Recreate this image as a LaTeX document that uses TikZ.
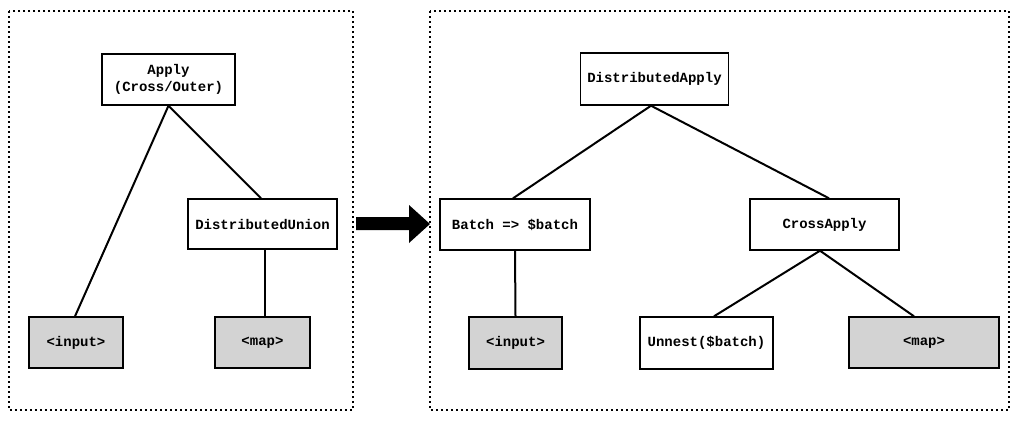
\documentclass[tikz,border=0pt]{standalone}
\usepackage{fontspec}
\setmonofont{Liberation Mono}
\definecolor{leafgray}{RGB}{211,211,211}
\begin{document}
\begin{tikzpicture}[x=1pt,y=-1pt,
  opbox/.style={draw=black, line width=1.4pt, fill=white, inner sep=0pt,
    font=\ttfamily\bfseries\fontsize{14}{17}\selectfont, align=center},
  leafbox/.style={opbox, fill=leafgray},
  edge/.style={draw=black, line width=2pt},
  panel/.style={draw=black, line width=1.8pt, dash pattern=on 1.8pt off 3.2pt}]
\useasboundingbox (0,0) rectangle (1017,426);
% panels
\draw[panel] (9,11) rectangle (353,410);
\draw[panel] (430,11) rectangle (1009,410);
% left tree
\node[opbox, minimum width=133pt, minimum height=51pt] (apply) at (168.5,79.5) {Apply\\(Cross/Outer)};
\node[opbox, minimum width=149pt, minimum height=50pt] (du) at (262.5,224) {DistributedUnion};
\node[leafbox, minimum width=94pt, minimum height=51pt] (lin) at (76,342.5) {<input>};
\node[leafbox, minimum width=95pt, minimum height=51pt] (lmap) at (262.5,342.5) {<map>};
\draw[edge] (apply.south) -- ([xshift=-1pt]lin.north);
\draw[edge] (apply.south) -- ([xshift=-1.5pt]du.north);
\draw[edge] ([xshift=2.5pt]du.south) -- ([xshift=2.5pt]lmap.north);
% arrow between panels
\fill[black] (356,217) -- (409,217) -- (409,205) -- (430,224) -- (409,243) -- (409,230) -- (356,230) -- cycle;
% right tree
\node[opbox, minimum width=148pt, minimum height=52pt] (da) at (654.5,79) {DistributedApply};
\node[opbox, minimum width=150pt, minimum height=51pt] (batch) at (515,224.5) {Batch => \$batch};
\node[opbox, minimum width=149pt, minimum height=51pt] (ca) at (824.5,224.5) {CrossApply};
\node[leafbox, minimum width=93pt, minimum height=52pt] (rin) at (515.5,343) {<input>};
\node[opbox, minimum width=133pt, minimum height=52pt] (un) at (706.5,343) {Unnest(\$batch)};
\node[leafbox, minimum width=150pt, minimum height=51pt] (rmap) at (924,342.5) {<map>};
\draw[edge] ([xshift=-3.5pt]da.south) -- ([xshift=-2pt]batch.north);
\draw[edge] ([xshift=-3.5pt]da.south) -- ([xshift=4.5pt]ca.north);
\draw[edge] (batch.south) -- (rin.north);
\draw[edge] ([xshift=-4.5pt]ca.south) -- ([xshift=7.5pt]un.north);
\draw[edge] ([xshift=-4.5pt]ca.south) -- ([xshift=-10pt]rmap.north);
\end{tikzpicture}
\end{document}
